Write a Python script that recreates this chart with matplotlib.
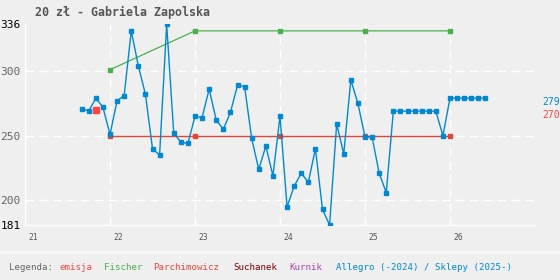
import numpy as np
import matplotlib
matplotlib.use("Agg")
import matplotlib.pyplot as plt
from matplotlib.transforms import ScaledTranslation

# Allegro / Sklepy monthly prices (month index counted from start of 2021)
allegro_months = list(range(8, 66))
allegro_prices = [271, 269, 279, 272, 251, 277, 281, 331, 304, 282,
                  240, 235, 336, 252, 245, 244, 265, 264, 286, 262,
                  255, 268, 289, 288, 248, 224, 242, 219, 265, 195,
                  211, 221, 214, 240, 193, 181, 259, 236, 293, 275,
                  249, 249, 221, 206, 269, 269, 269, 269, 269, 269,
                  269, 250, 279, 279, 279, 279, 279, 279]

emisja_x = [21 + 10 / 12]
emisja_y = [270]

fischer_x = [22, 23, 24, 25, 26]
fischer_y = [301, 331, 331, 331, 331]

parch_x = [22, 23, 24, 25, 26]
parch_y = [250, 250, 250, 250, 250]

year_ticks = [21, 22, 23, 24, 25, 26]
y_ticks = [181, 200, 250, 300, 336]
grid_x = [22, 23, 24, 25, 26]
grid_y = [200, 250, 300]

legend_names = ["emisja", "Fischer", "Parchimowicz", "Suchanek", "Kurnik",
                "Allegro (-2024) / Sklepy (2025-)"]
legend_colors = ["#ff4444", "#4caf50", "#e8453c", "#800000", "#aa44aa", "#0288d1"]

BG = "#efefef"
W, H = 560, 280

fig = plt.figure(figsize=(W / 100, H / 100), dpi=100, facecolor=BG)
ax = fig.add_axes([25 / W, 1 - 225 / H, 510 / W, (225 - 24.4) / H], facecolor=BG)

ax.set_xlim(21, 27)
ax.set_ylim(181, 336)

for s in ["top", "right"]:
    ax.spines[s].set_visible(False)
for s in ["left", "bottom"]:
    ax.spines[s].set_color("white")
    ax.spines[s].set_linewidth(1.0)

# dashed grid only at inner values
for gx in grid_x:
    ax.axvline(gx, color="white", linestyle=(0, (6, 4)), lw=1.0, zorder=1)
for gy in grid_y:
    ax.axhline(gy, color="white", linestyle=(0, (6, 4)), lw=1.0, zorder=1)

# series
ax_x = 21 + np.array(allegro_months) / 12
ax.plot(fischer_x, fischer_y, color="#4caf50", lw=0.9, marker="s", ms=2.2, zorder=3)
ax.plot(parch_x, parch_y, color="#e0453a", lw=1.0, marker="s", ms=2.2, zorder=3)
ax.plot(ax_x, allegro_prices, color="#0288d1", lw=1.0, marker="s", ms=2.2, zorder=4)
ax.plot(emisja_x, emisja_y, color="#ff4444", lw=0, marker="s", ms=3.8, zorder=5)

# ticks
mono = "DejaVu Sans Mono"
ax.set_yticks(y_ticks)
ax.set_yticklabels([str(v) for v in y_ticks], fontfamily=mono, fontsize=8)
for lbl, v in zip(ax.get_yticklabels(), y_ticks):
    lbl.set_color("black" if v in (181, 336) else "#666666")
ax.tick_params(axis="y", length=0, pad=3)

ax.set_xticks(year_ticks)
ax.set_xticklabels([str(v) for v in year_ticks], fontfamily=mono, fontsize=5.8,
                   color="#555555")
ax.tick_params(axis="x", length=0, pad=6)
off = ScaledTranslation(3 / 100, 0, fig.dpi_scale_trans)
for lbl in ax.get_xticklabels():
    lbl.set_horizontalalignment("left")
    lbl.set_transform(lbl.get_transform() + off)

# right side last values
fig.text(542 / W, 1 - 102 / H, str(allegro_prices[-1]), color="#0288d1",
         fontfamily=mono, fontsize=7, va="center", ha="left")
fig.text(542 / W, 1 - 114.5 / H, str(emisja_y[-1]), color="#ff4444",
         fontfamily=mono, fontsize=7, va="center", ha="left")

# title
fig.text(35 / W, 1 - 12 / H, "20 zł - Gabriela Zapolska", color="#555555",
         fontfamily=mono, fontweight="bold", fontsize=8.4, va="center", ha="left")

# legend strip
fig.add_artist(plt.Line2D([0, 1], [1 - 251.5 / H] * 2, color="#f8f8f8", lw=2,
                          transform=fig.transFigure))
fig.text(9 / W, 1 - 267 / H, "Legenda:", color="#666666", fontfamily=mono,
         fontsize=6.6, va="center", ha="left")
legend_x = [60, 104, 153, 233, 289, 336]
for name, col, lx in zip(legend_names, legend_colors, legend_x):
    fig.text(lx / W, 1 - 267 / H, name, color=col, fontfamily=mono,
             fontsize=6.6, va="center", ha="left")

fig.savefig("out.png", dpi=100, facecolor=BG)
